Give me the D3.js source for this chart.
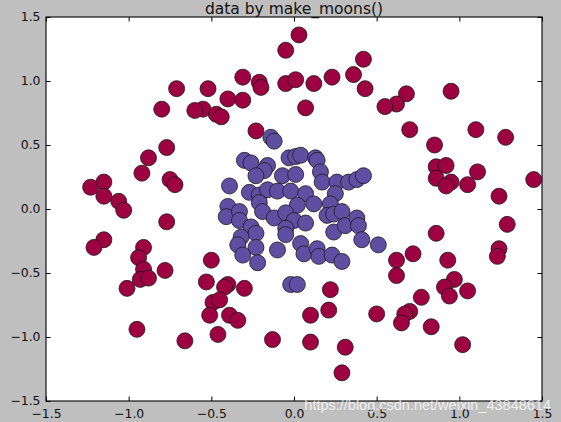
<html>
<head>
<meta charset="utf-8">
<script src="https://d3js.org/d3.v7.min.js"></script>
<style>
  body { margin: 0; background: #bfbfbf; }
  svg { display: block; }
  .tick text { font-family: "DejaVu Sans"; }
</style>
</head>
<body>
<svg id="chart" width="561" height="422"></svg>
<script>
// outer ring (label 0)
const outerX = [0.03, -0.05, -0.31, -0.21, -0.20, -0.05, 0.01, 0.12, 0.23, 0.36, 0.42, 0.43, 0.07,
  -0.52, -0.40, -0.31, -0.55, -0.47, -0.44, -0.23, -0.71, -0.80, -0.60, 0.95, 0.68, 0.62, 0.55,
  0.70, 1.10, 1.28, 0.85, -0.77, -0.88, -0.92, -0.75, -0.72, -1.23, -1.15, -1.15, -1.06, -1.03,
  -0.77, -1.15, -1.21, -0.91, -0.94, -0.91, -0.78, 0.86, 0.92, 0.86, 0.95, 0.92, 1.05, 1.11, 1.45,
  1.24, 1.29, 0.86, 0.72, 0.62, 0.93, 1.24, 1.23, -0.93, -0.88, -1.01, -0.95, -0.66, -0.50, -0.53,
  -0.40, -0.42, -0.30, -0.49, -0.45, -0.51, -0.39, -0.34, -0.46, -0.13, 0.22, 0.21, 0.10, 0.10,
  0.31, 0.29, 0.62, 0.97, 0.91, 0.94, 1.05, 0.77, 0.50, 0.70, 0.67, 0.65, 0.83, 1.02];
const outerY = [1.36, 1.24, 1.03, 0.99, 0.95, 0.98, 1.01, 0.98, 1.03, 1.05, 1.17, 0.94, 0.79,
  0.94, 0.86, 0.85, 0.78, 0.74, 0.72, 0.61, 0.94, 0.78, 0.77, 0.92, 0.90, 0.82, 0.80,
  0.62, 0.62, 0.56, 0.50, 0.48, 0.40, 0.28, 0.23, 0.19, 0.17, 0.21, 0.10, 0.06, -0.01,
  -0.10, -0.24, -0.30, -0.30, -0.38, -0.47, -0.48, 0.33, 0.34, 0.24, 0.21, 0.18, 0.19, 0.29, 0.23,
  0.10, -0.12, -0.19, -0.35, -0.40, -0.40, -0.31, -0.37, -0.55, -0.54, -0.62, -0.94, -1.03, -0.40, -0.57,
  -0.59, -0.61, -0.62, -0.73, -0.71, -0.83, -0.83, -0.87, -0.98, -1.02, -0.63, -0.79, -0.83, -1.04,
  -1.08, -1.28, -0.52, -0.55, -0.61, -0.68, -0.64, -0.69, -0.82, -0.80, -0.82, -0.89, -0.92, -1.06];

// inner blob (label 1)
const innerX = [-0.14, -0.12, -0.30, -0.26, -0.16, -0.18, -0.03, 0.01, 0.04, 0.13, 0.14, -0.23, -0.07,
  0.01, 0.16, 0.17, -0.39, 0.26, 0.33, 0.38, 0.42, -0.27, -0.21, -0.16, -0.10, -0.02, 0.07, 0.25,
  0.12, 0.22, 0.02, -0.21, -0.40, -0.41, -0.33, -0.19, -0.12, -0.05, 0.00, 0.07, 0.20, 0.24, 0.29,
  -0.33, -0.26, -0.23, -0.05, -0.05, -0.32, -0.34, -0.23, -0.31, -0.10, 0.04, 0.06, 0.14, 0.15, 0.23,
  0.29, 0.24, 0.31, 0.38, 0.39, 0.41, -0.22, 0.51, -0.02, 0.02];
const innerY = [0.56, 0.53, 0.38, 0.36, 0.34, 0.30, 0.40, 0.41, 0.42, 0.40, 0.38, 0.26, 0.26,
  0.27, 0.29, 0.21, 0.18, 0.21, 0.21, 0.23, 0.26, 0.13, 0.11, 0.15, 0.14, 0.14, 0.12, 0.12,
  0.04, 0.04, 0.03, 0.05, 0.02, -0.06, -0.02, -0.02, -0.07, -0.03, -0.09, -0.11, -0.05, -0.04, -0.02,
  -0.09, -0.14, -0.19, -0.15, -0.20, -0.22, -0.28, -0.30, -0.36, -0.32, -0.27, -0.35, -0.31, -0.37, -0.36,
  -0.41, -0.18, -0.13, -0.07, -0.13, -0.24, -0.42, -0.28, -0.59, -0.59];

const tickValues = [-1.5, -1.0, -0.5, 0.0, 0.5, 1.0, 1.5];
const colors = ["#9e0142", "#5e4fa2"];
const title = "data by make_moons()";

const svg = d3.select("#chart");
const margin = { top: 17, right: 19, bottom: 21, left: 46 };
const w = 561 - margin.left - margin.right;
const h = 422 - margin.top - margin.bottom;

const x = d3.scaleLinear().domain([-1.5, 1.5]).range([0, w]);
const y = d3.scaleLinear().domain([-1.5, 1.5]).range([h, 0]);

const g = svg.append("g").attr("transform", `translate(${margin.left},${margin.top})`);

g.append("rect").attr("width", w).attr("height", h).attr("fill", "white");

const points = [];
outerX.forEach((v, i) => points.push({ x: v, y: outerY[i], c: 0 }));
innerX.forEach((v, i) => points.push({ x: v, y: innerY[i], c: 1 }));

g.selectAll("circle.pt").data(points)
  .join("circle")
  .attr("class", "pt")
  .attr("cx", d => x(d.x))
  .attr("cy", d => y(d.y))
  .attr("r", 8)
  .attr("fill", d => colors[d.c])
  .attr("stroke", "#1a1a1a")
  .attr("stroke-width", 0.8);

const fmt = d3.format(".1f");

function styleAxis(sel) {
  sel.select(".domain").remove();
  sel.selectAll(".tick line").attr("stroke", "black");
  sel.selectAll(".tick text").attr("fill", "#111").style("font-size", "12.4px");
}

g.append("g").attr("transform", `translate(0,${h})`)
  .call(d3.axisBottom(x).tickValues(tickValues).tickFormat(fmt).tickSize(-4.5).tickPadding(8))
  .call(styleAxis);
g.append("g")
  .call(d3.axisTop(x).tickValues(tickValues).tickFormat("").tickSize(-4.5))
  .call(styleAxis);
g.append("g")
  .call(d3.axisLeft(y).tickValues(tickValues).tickFormat(fmt).tickSize(-4.5).tickPadding(5.5))
  .call(styleAxis);
g.append("g").attr("transform", `translate(${w},0)`)
  .call(d3.axisRight(y).tickValues(tickValues).tickFormat("").tickSize(-4.5))
  .call(styleAxis);

// frame
g.append("rect").attr("width", w).attr("height", h)
  .attr("fill", "none").attr("stroke", "black").attr("stroke-width", 1.1);

svg.append("text")
  .attr("x", margin.left + w / 2)
  .attr("y", 13.5)
  .attr("text-anchor", "middle")
  .style("font-family", "DejaVu Sans")
  .style("font-size", "15.5px")
  .attr("fill", "#111")
  .text(title);

// watermark
svg.append("text")
  .attr("x", 551)
  .attr("y", 410)
  .attr("text-anchor", "end")
  .style("font-family", "Liberation Sans")
  .style("font-size", "14.5px")
  .attr("fill", "white")
  .attr("opacity", 0.75)
  .text("https://blog.csdn.net/weixin_43848614");
</script>
</body>
</html>
